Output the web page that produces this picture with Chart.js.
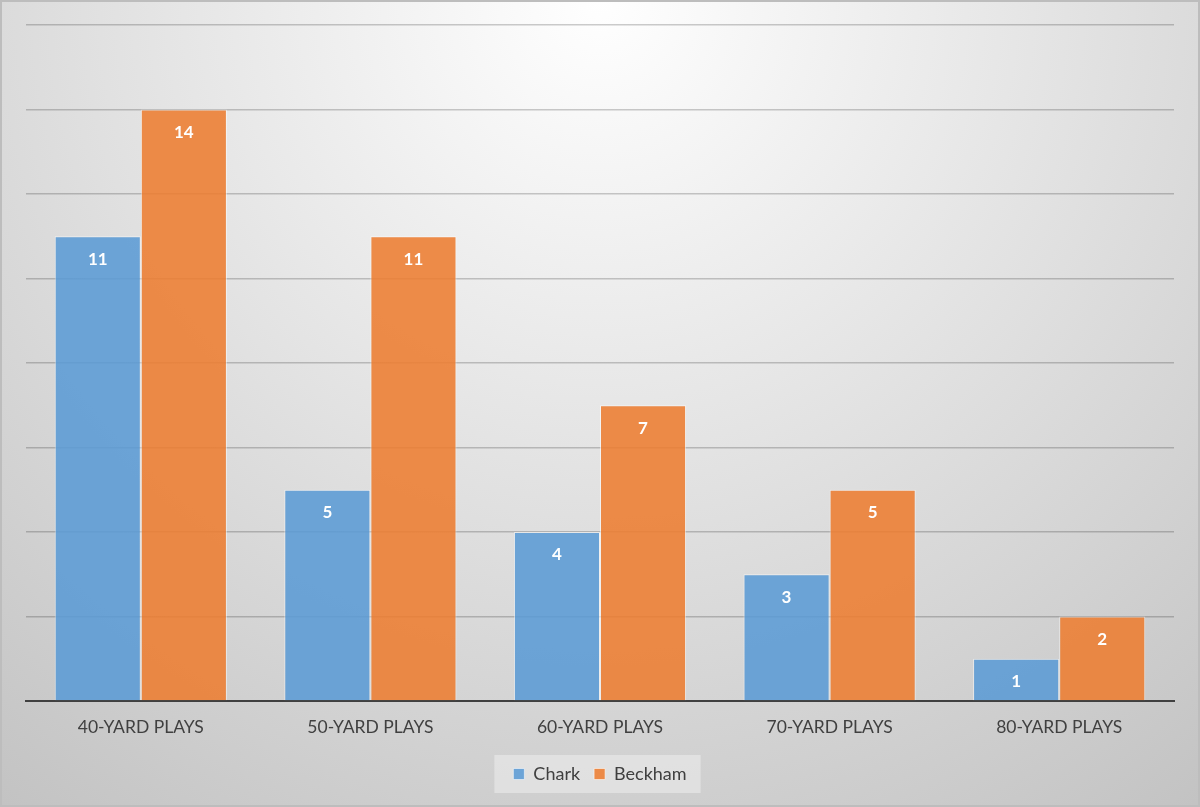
<!DOCTYPE html>
<html>
<head>
<meta charset="utf-8">
<script src="https://cdn.jsdelivr.net/npm/chart.js@4/dist/chart.umd.min.js"></script>
<style>
  html, body { margin: 0; padding: 0; background: #fff; }
  #wrap { width: 1200px; height: 807px; position: relative; }
</style>
</head>
<body>
<div id="wrap"><canvas id="chart" width="1200" height="807"></canvas></div>
<script>
// datos del gráfico
const categories = ["40-YARD PLAYS", "50-YARD PLAYS", "60-YARD PLAYS", "70-YARD PLAYS", "80-YARD PLAYS"];
const charkValues = [11, 5, 4, 3, 1];
const beckhamValues = [14, 11, 7, 5, 2];
const seriesNames = ["Chark", "Beckham"];

const fontFamily = "Lato, 'Open Sans', sans-serif";

// fondo degradado y caja de la leyenda
const backgroundPlugin = {
  id: "background",
  beforeDraw(chart) {
    const ctx = chart.ctx;
    const w = chart.width, h = chart.height;
    ctx.save();
    const grad = ctx.createRadialGradient(600, 0, 0, 600, 0, 1000);
    grad.addColorStop(0, "#ffffff");
    grad.addColorStop(1, "#c3c3c3");
    ctx.fillStyle = grad;
    ctx.fillRect(0, 0, w, h);
    ctx.strokeStyle = "#bdbdbd";
    ctx.lineWidth = 2;
    ctx.strokeRect(1, 1, w - 2, h - 2);
    const lg = chart.legend;
    if (lg && lg.legendHitBoxes && lg.legendHitBoxes.length) {
      const boxes = lg.legendHitBoxes;
      const left = Math.min(...boxes.map(b => b.left)) - 19;
      const right = Math.max(...boxes.map(b => b.left + b.width)) + 14;
      const top = boxes[0].top - 10;
      ctx.fillStyle = "rgba(255,255,255,0.35)";
      ctx.fillRect(left, top, right - left, 38);
    }
    ctx.restore();
  }
};

// etiquetas de datos en blanco dentro de las barras
const labelsPlugin = {
  id: "barLabels",
  afterDatasetsDraw(chart) {
    const ctx = chart.ctx;
    ctx.save();
    ctx.fillStyle = "#ffffff";
    ctx.font = "bold 17px " + fontFamily;
    ctx.textAlign = "center";
    ctx.textBaseline = "middle";
    chart.data.datasets.forEach((ds, i) => {
      chart.getDatasetMeta(i).data.forEach((bar, j) => {
        ctx.fillText(String(ds.data[j]), bar.x, bar.y + 23);
      });
    });
    ctx.restore();
  }
};

new Chart(document.getElementById("chart"), {
  type: "bar",
  data: {
    labels: categories,
    datasets: [
      {
        label: seriesNames[0],
        data: charkValues,
        backgroundColor: "rgba(91, 155, 213, 0.88)",
        borderColor: "rgba(255, 255, 255, 0.55)",
        borderWidth: 1,
        categoryPercentage: 0.75,
        barPercentage: 1.0
      },
      {
        label: seriesNames[1],
        data: beckhamValues,
        backgroundColor: "rgba(237, 125, 49, 0.88)",
        borderColor: "rgba(255, 255, 255, 0.55)",
        borderWidth: 1,
        categoryPercentage: 0.75,
        barPercentage: 1.0
      }
    ]
  },
  options: {
    responsive: false,
    animation: false,
    layout: { padding: { left: 26, right: 26, top: 25, bottom: 14 } },
    plugins: {
      tooltip: { enabled: false },
      legend: {
        position: "bottom",
        labels: {
          color: "#404040",
          font: { family: fontFamily, size: 18 },
          boxWidth: 11,
          boxHeight: 11,
          padding: 14
        }
      }
    },
    scales: {
      x: {
        afterFit(scale) { scale.height += 5; },
        grid: { display: false },
        border: { display: true, color: "#404040", width: 2 },
        ticks: {
          color: "#404040",
          font: { family: fontFamily, size: 17.5 },
          padding: 8
        }
      },
      y: {
        min: 0,
        max: 16,
        afterFit(scale) { scale.width = 0; },
        ticks: { display: false, stepSize: 2 },
        border: { display: false },
        grid: { color: "rgba(0, 0, 0, 0.2)", lineWidth: 1.5, drawTicks: false }
      }
    }
  },
  plugins: [backgroundPlugin, labelsPlugin]
});
</script>
</body>
</html>
